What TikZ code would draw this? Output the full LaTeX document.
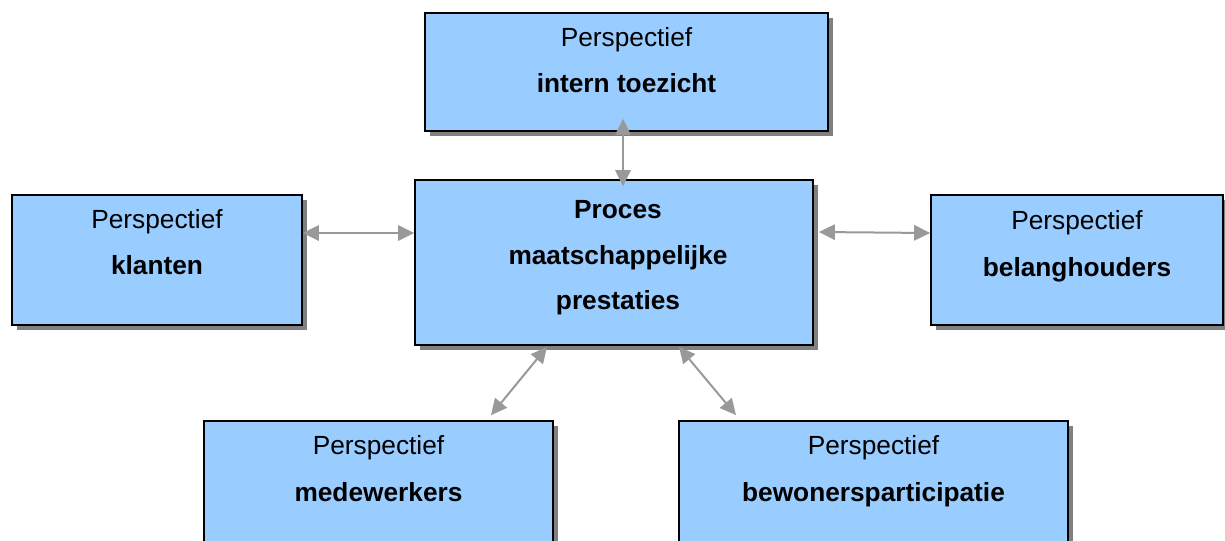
\documentclass[tikz,border=0pt]{standalone}
\usepackage{fontspec}
\setmainfont{Liberation Sans}
\usetikzlibrary{arrows.meta,shadows,fit,calc}
\definecolor{boxblue}{HTML}{99CCFF}
\definecolor{linkgrey}{HTML}{999999}
\definecolor{shadowgrey}{HTML}{808080}
\begin{document}
\begin{tikzpicture}[x=0.75pt,y=-0.75pt,
  box/.style={draw=black, line width=1.3pt, fill=boxblue, inner sep=0pt,
    drop shadow={shadow xshift=3.75pt, shadow yshift=-3.75pt, fill=shadowgrey, opacity=1}},
  txt/.style={anchor=base, inner sep=0pt, font=\fontsize{19.7pt}{24pt}\selectfont},
  bold/.style={anchor=base, inner sep=0pt, font=\fontsize{19.7pt}{24pt}\selectfont\bfseries},
  link/.style={draw=linkgrey, line width=1.5pt,
    {Triangle[length=12pt,width=11.5pt]}-{Triangle[length=12pt,width=11.5pt]}}]
\useasboundingbox (0,0) rectangle (1225,540);
\clip (0,0) rectangle (1225,540);

% boxes
\node[box, fit={(425,13) (828,131)}] (toezicht) {};
\node[box, fit={(12,195) (302,325)}] (klanten) {};
\node[box, fit={(415,180) (813,345)}] (proces) {};
\node[box, fit={(931,195) (1223,325)}] (belang) {};
\node[box, fit={(204,421) (553,570)}] (mede) {};
\node[box, fit={(679,421) (1068,570)}] (bewoner) {};

% texts
\node[txt]  (t1) at ($(toezicht.north)+(0,34)$) {Perspectief};
\node[bold] (t2) at ($(toezicht.north)+(0,80)$) {intern toezicht};
\node[txt]  (k1) at ($(klanten.north)+(0,34)$) {Perspectief};
\node[bold] (k2) at ($(klanten.north)+(0,80)$) {klanten};
\node[txt]  (b1) at ($(belang.north)+(0,35)$) {Perspectief};
\node[bold] (b2) at ($(belang.north)+(0,82)$) {belanghouders};
\node[bold] (p1) at ($(proces.north)+(4,39)$) {Proces};
\node[bold] (p2) at ($(proces.north)+(4,85)$) {maatschappelijke};
\node[bold] (p3) at ($(proces.north)+(4,130)$) {prestaties};
\node[txt]  (m1) at ($(mede.north)+(0,34)$) {Perspectief};
\node[bold] (m2) at ($(mede.north)+(0,81)$) {medewerkers};
\node[txt]  (w1) at ($(bewoner.north)+(0,34)$) {Perspectief};
\node[bold] (w2) at ($(bewoner.north)+(0,81)$) {bewonersparticipatie};

% connectors
\draw[link] ($(toezicht.south)+(-3.5,-13)$) -- ($(proces.north)+(9,7)$);
\draw[link] ($(klanten.east)+(0,-27)$) -- ($(proces.west)+(0,-29.5)$);
\draw[link] ($(proces.east)+(5,-30.5)$) -- ($(belang.west)+(0,-27)$);
\draw[link] ($(proces.south)+(-67,1)$) -- ($(mede.north)+(112.5,-5)$);
\draw[link] ($(proces.south)+(65,1)$) -- ($(bewoner.north)+(-137.5,-5)$);
\end{tikzpicture}
\end{document}
